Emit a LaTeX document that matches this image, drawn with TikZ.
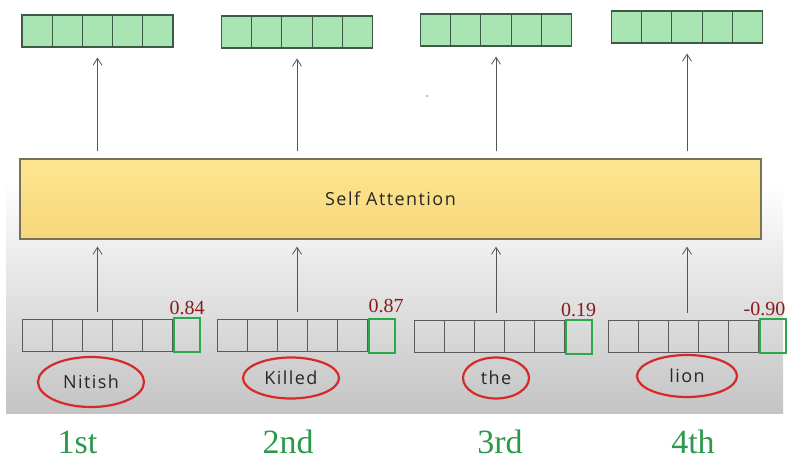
\documentclass[tikz,border=0pt]{standalone}
\usepackage{fontspec}
\setmainfont{Liberation Serif}
\newfontfamily\handfont[LetterSpace=8]{Open Sans}
\usetikzlibrary{%
    arrows.meta,
    calc,
    positioning,
    shapes.geometric
}
\definecolor{vecgreen}{HTML}{A9E4B3}
\definecolor{outedge}{HTML}{3D5A44}
\definecolor{ingray}{HTML}{5A5A5A}
\definecolor{hotgreen}{HTML}{2AA84A}
\definecolor{wordred}{HTML}{D42A2A}
\definecolor{scorered}{HTML}{8B1A1A}
\definecolor{rankgreen}{HTML}{2A9A4A}
\definecolor{arrowgray}{HTML}{555555}
\definecolor{bggray}{HTML}{C4C4C4}
\definecolor{satop}{HTML}{FDE691}
\definecolor{sabottom}{HTML}{F6D77B}
\definecolor{saedge}{HTML}{7A7158}
\tikzset{uparrow/.style = {draw=arrowgray, line width=.8pt, -{Straight Barb[length=7pt,width=9pt]}}}
\tikzset{cells/.style = {path picture={%
    \foreach \k in {1,...,4}
        \draw[#1, line width=1pt]
            ($(path picture bounding box.south west)!\k/5!(path picture bounding box.south east)$) --
            ($(path picture bounding box.north west)!\k/5!(path picture bounding box.north east)$);}}}
\tikzset{outvec/.style = {draw=outedge, fill=vecgreen, line width=1.1pt, minimum width=151pt, minimum height=32pt, inner sep=0pt, cells=outedge}}
\tikzset{invec/.style = {draw=ingray, line width=1pt, minimum width=150pt, minimum height=32pt, inner sep=0pt, cells=ingray}}
\tikzset{hotcell/.style = {draw=hotgreen, line width=2pt, minimum width=26pt, minimum height=34pt, inner sep=0pt}}
\tikzset{word/.style = {ellipse, draw=wordred, line width=2.2pt, inner sep=0pt, text=black!85, font=\handfont\fontsize{18}{18}\selectfont}}
\tikzset{score/.style = {text=scorered, inner sep=1pt, font=\fontsize{20}{20}\selectfont}}
\tikzset{rank/.style = {text=rankgreen, font=\fontsize{34}{34}\selectfont}}

\begin{document}
\begin{tikzpicture}[x=1pt,y=-1pt]
    \useasboundingbox (0,0) rectangle (797,473);
    \fill[white] (0,0) rectangle (797,473);
    \shade[top color=white, bottom color=bggray] (6,180) rectangle (783,413);
    \fill[arrowgray!60] (427,96) circle (1pt);

    \node (SA) [draw=saedge, line width=1.2pt, top color=satop, bottom color=sabottom,
        minimum width=741pt, minimum height=80pt, text=black!85,
        font=\handfont\fontsize{18}{18}\selectfont] at (390.5,199) {Self Attention};

    % outputs
    \node (O1) [outvec] at (97.5,31) {};
    \node (O2) [outvec] at (297,32) {};
    \node (O3) [outvec] at (496,30) {};
    \node (O4) [outvec] at (687,27) {};

    % inputs with the highlighted last value
    \node (I1) [invec] at (97.5,335) {};
    \node (I2) [invec] at (292.5,335.5) {};
    \node (I3) [invec] at (489,336.5) {};
    \node (I4) [invec] at (683,336) {};
    \node (H1) [hotcell,right=0pt of I1] {};
    \node (H2) [hotcell,right=0pt of I2] {};
    \node (H3) [hotcell,right=0pt of I3] {};
    \node (H4) [hotcell,right=0pt of I4] {};
    \node (S1) [score,above=1pt of H1] {0.84};
    \node (S2) [score,above=4pt of H2,xshift=4pt] {0.87};
    \node (S3) [score,above=1pt of H3] {0.19};
    \node (S4) [score,above=1pt of H4,xshift=-8pt] {-0.90};

    \node (W1) [word,minimum width=106pt,minimum height=50pt] at (91,382) {Nitish};
    \node (W2) [word,minimum width=96pt,minimum height=41pt] at (291,378) {Killed};
    \node (W3) [word,minimum width=66pt,minimum height=41pt] at (496,378) {the};
    \node (W4) [word,minimum width=100pt,minimum height=42pt] at (687,376) {lion};

    \node (R1) [rank] at (77.5,442) {1st};
    \node (R2) [rank] at (288,442) {2nd};
    \node (R3) [rank] at (500,442) {3rd};
    \node (R4) [rank] at (693,442) {4th};

    \draw[uparrow, shorten <=7pt, shorten >=10pt] (O1 |- SA.north) -- (O1.south);
    \draw[uparrow, shorten <=7pt, shorten >=10pt] (O2 |- SA.north) -- (O2.south);
    \draw[uparrow, shorten <=7pt, shorten >=10pt] (O3 |- SA.north) -- (O3.south);
    \draw[uparrow, shorten <=7pt, shorten >=10pt] (O4 |- SA.north) -- (O4.south);
    \draw[uparrow, shorten <=7pt, shorten >=7pt] (O1 |- I1.north) -- (O1 |- SA.south);
    \draw[uparrow, shorten <=7pt, shorten >=7pt] (O2 |- I2.north) -- (O2 |- SA.south);
    \draw[uparrow, shorten <=7pt, shorten >=7pt] (O3 |- I3.north) -- (O3 |- SA.south);
    \draw[uparrow, shorten <=7pt, shorten >=7pt] (O4 |- I4.north) -- (O4 |- SA.south);
\end{tikzpicture}
\end{document}
